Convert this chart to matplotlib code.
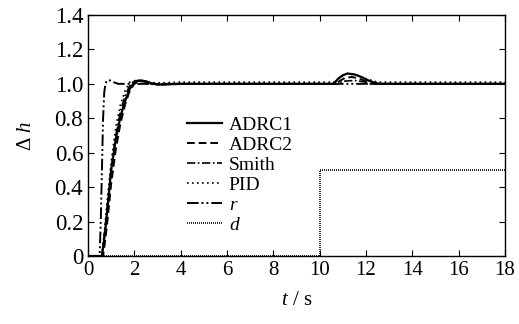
import matplotlib
matplotlib.use("Agg")
import matplotlib.pyplot as plt

plt.rcParams.update({
    "font.family": "serif",
    "font.serif": ["Liberation Serif", "DejaVu Serif"],
    "font.size": 14,
    "mathtext.fontset": "custom",
    "mathtext.rm": "Liberation Serif",
    "mathtext.it": "Liberation Serif:italic",
})

# ADRC1 (solid)
t_adrc1 = [0, 0.6, 0.7, 0.8, 1.0, 1.2, 1.4, 1.6, 1.8, 2.0, 2.2, 2.5, 2.8, 3.2, 3.6, 4.0,
           10.0, 10.6, 10.8, 11.0, 11.2, 11.5, 11.8, 12.1, 12.4, 12.6, 18]
y_adrc1 = [0, 0, 0.1, 0.22, 0.5, 0.68, 0.81, 0.9, 0.97, 1.01, 1.02, 1.015, 1.0, 0.995, 0.998, 1.0,
           1.0, 1.0, 1.03, 1.05, 1.06, 1.055, 1.04, 1.02, 1.005, 1.0, 1.0]

# ADRC2 (dashed)
t_adrc2 = [0, 0.65, 0.75, 0.85, 1.0, 1.2, 1.4, 1.6, 1.8, 2.0, 2.3, 2.6, 3.0, 3.5, 4.0,
           10.0, 10.7, 10.9, 11.1, 11.4, 11.7, 12.0, 12.3, 18]
y_adrc2 = [0, 0, 0.1, 0.22, 0.42, 0.62, 0.77, 0.88, 0.96, 1.0, 1.02, 1.01, 0.995, 1.0, 1.0,
           1.0, 1.0, 1.02, 1.035, 1.04, 1.03, 1.015, 1.0, 1.0]

# Smith (dash-dot)
t_smith = [0, 0.6, 0.7, 0.8, 1.0, 1.2, 1.4, 1.6, 1.8, 2.0, 2.3, 2.7, 3.2, 4.0,
           10.0, 10.8, 11.0, 11.5, 12.0, 12.2, 18]
y_smith = [0, 0, 0.12, 0.25, 0.5, 0.7, 0.84, 0.93, 0.99, 1.02, 1.015, 1.0, 0.998, 1.0,
           1.0, 1.0, 1.015, 1.02, 1.01, 1.0, 1.0]

# PID (dotted)
t_pid = [0, 0.6, 0.7, 0.8, 1.0, 1.2, 1.4, 1.6, 1.8, 2.1, 2.5, 3.0, 4.0,
         10.0, 10.6, 10.9, 11.2, 11.6, 12.0, 12.5, 18]
y_pid = [0, 0, 0.13, 0.28, 0.55, 0.75, 0.88, 0.96, 1.01, 1.02, 1.01, 1.005, 1.01,
         1.01, 1.01, 1.04, 1.06, 1.05, 1.03, 1.01, 1.01]

# reference r
t_r = [0, 0.5, 0.55, 0.6, 0.65, 0.7, 0.75, 0.82, 0.95, 1.1, 1.3, 18]
y_r = [0, 0, 0.2, 0.5, 0.8, 0.95, 1.0, 1.02, 1.02, 1.01, 1.0, 1.0]

# disturbance d
t_d = [0, 10, 10, 18]
y_d = [0, 0, 0.5, 0.5]

xticks = [0, 2, 4, 6, 8, 10, 12, 14, 16, 18]
yticks = [0, 0.2, 0.4, 0.6, 0.8, 1.0, 1.2, 1.4]
ytick_labels = ["0", "0.2", "0.4", "0.6", "0.8", "1.0", "1.2", "1.4"]

fig = plt.figure(figsize=(5.19, 3.24), dpi=100)
ax = fig.add_axes([0.1696, 0.2099, 0.8034, 0.7438])

ax.plot(t_adrc1, y_adrc1, color="black", lw=1.6, ls="-", label="ADRC1")
ax.plot(t_adrc2, y_adrc2, color="black", lw=1.4, ls=(0, (4, 2)), label="ADRC2")
ax.plot(t_smith, y_smith, color="black", lw=1.2, ls=(0, (5, 1.5, 1, 1.5)), label="Smith")
ax.plot(t_pid, y_pid, color="black", lw=1.2, ls=(0, (1, 2)), label="PID")
ax.plot(t_r, y_r, color="black", lw=1.4, ls=(0, (6, 1.5, 1, 1.5, 1, 1.5)), label="$r$")
ax.plot(t_d, y_d, color="black", lw=1.2, ls=(0, (0.6, 0.6)), label="$d$")

ax.set_xlim(0, 18)
ax.set_ylim(0, 1.4)
ax.set_xticks(xticks)
ax.set_yticks(yticks)
ax.set_yticklabels(ytick_labels)
ax.tick_params(direction="in", top=True, right=True, length=4, width=0.8)
ax.tick_params(axis="x", labelsize=15)
ax.tick_params(axis="y", labelsize=16.5)
for s in ax.spines.values():
    s.set_linewidth(1.0)

ax.set_xlabel("$t$ / s", fontsize=15, labelpad=8)
ax.set_ylabel("Δ $h$", fontsize=15, labelpad=13)

ax.legend(loc="upper left", bbox_to_anchor=(0.237, 0.58), frameon=False,
          borderaxespad=0, borderpad=0, fontsize=14,
          handlelength=1.8, handletextpad=0.35, labelspacing=0.12)

fig.savefig("out.png", dpi=100)
